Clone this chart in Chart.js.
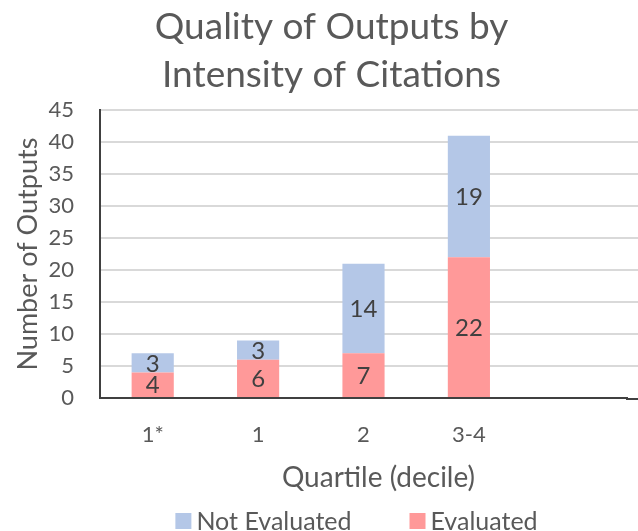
<!DOCTYPE html>
<html>
<head>
<meta charset="utf-8">
<script src="https://cdn.jsdelivr.net/npm/chart.js@4/dist/chart.umd.min.js"></script>
<style>
  html, body { margin: 0; padding: 0; background: #fff; }
  #wrap { width: 638px; height: 531px; }
</style>
</head>
<body>
<div id="wrap"><canvas id="chart"></canvas></div>
<script>
// Data
const categories = ["1*", "1", "2", "3-4", ""];
const evaluated = [4, 6, 7, 22, null];
const notEvaluated = [3, 3, 14, 19, null];

const textColor = "#595959";
const gridColor = "#d9d9d9";
const axisColor = "#404040";
const fontFamily = "Lato, 'Open Sans', sans-serif";
const legendOrder = [1, 0]; // Not Evaluated first, like the original
const xTitle = "Quartile (decile)";

// Draw the value inside each bar segment
const barLabels = {
    id: "barLabels",
    afterDatasetsDraw(chart) {
        const ctx = chart.ctx;
        ctx.save();
        ctx.font = "24px " + fontFamily;
        ctx.fillStyle = "#404040";
        ctx.textAlign = "center";
        ctx.textBaseline = "middle";
        chart.data.datasets.forEach((ds, i) => {
            chart.getDatasetMeta(i).data.forEach((bar, j) => {
                const v = ds.data[j];
                if (v === null || v === undefined) return;
                const mid = (bar.y + bar.base) / 2;
                ctx.fillText(String(v), bar.x, mid + 1);
            });
        });
        ctx.restore();
    }
};

// Nudge the title to the right, the original sits a bit off centre
const titleShift = {
    id: "titleShift",
    afterLayout(chart) {
        if (chart.titleBlock) chart.titleBlock.left += 36;
    }
};

// The original's gridlines and x axis run on to the picture's right edge
const gridRunOn = {
    id: "gridRunOn",
    beforeDatasetsDraw(chart) {
        const { ctx, chartArea } = chart;
        const y = chart.scales.y;
        ctx.save();
        ctx.lineWidth = 2;
        ctx.strokeStyle = gridColor;
        y.ticks.forEach(t => {
            if (t.value === 0) return;
            const py = Math.round(y.getPixelForValue(t.value));
            ctx.beginPath();
            ctx.moveTo(chartArea.right, py);
            ctx.lineTo(chart.width, py);
            ctx.stroke();
        });
        const py0 = y.getPixelForValue(0) + 1;
        ctx.strokeStyle = axisColor;
        ctx.beginPath();
        ctx.moveTo(chartArea.right - 1, py0);
        ctx.lineTo(chart.width, py0);
        ctx.stroke();
        ctx.restore();
    }
};

// x axis title and bottom legend, placed a little off centre as in the original
const bottomTexts = {
    id: "bottomTexts",
    afterDraw(chart) {
        const ctx = chart.ctx;
        const mid = (chart.chartArea.left + chart.chartArea.right) / 2;
        ctx.save();
        ctx.textBaseline = "middle";

        ctx.font = "28px " + fontFamily;
        ctx.fillStyle = textColor;
        ctx.textAlign = "center";
        ctx.fillText(xTitle, mid + 15, chart.scales.x.bottom - 16);

        const box = 16, gap = 5, between = 58;
        ctx.font = "25px " + fontFamily;
        ctx.textAlign = "left";
        const items = legendOrder.map(i => {
            const ds = chart.data.datasets[i];
            return { text: ds.label, color: ds.backgroundColor, w: ctx.measureText(ds.label).width };
        });
        const total = items.reduce((s, it) => s + box + gap + it.w, 0) + between * (items.length - 1);
        let x = mid - 7 - total / 2;
        const y = chart.height - 10;
        items.forEach(it => {
            ctx.fillStyle = it.color;
            ctx.fillRect(x, y - box / 2, box, box);
            x += box + gap;
            ctx.fillStyle = textColor;
            ctx.fillText(it.text, x, y + 1);
            x += it.w + between;
        });
        ctx.restore();
    }
};

new Chart(document.getElementById("chart"), {
    type: "bar",
    data: {
        labels: categories,
        datasets: [
            {
                label: "Evaluated",
                data: evaluated,
                backgroundColor: "#ff9999",
            },
            {
                label: "Not Evaluated",
                data: notEvaluated,
                backgroundColor: "#b4c7e7",
            },
        ],
    },
    options: {
        responsive: true,
        maintainAspectRatio: false,
        animation: false,
        layout: { padding: { left: 0, right: 11, top: 0, bottom: 37 } },
        datasets: {
            bar: { categoryPercentage: 1, barPercentage: 0.4 }
        },
        plugins: {
            title: {
                display: true,
                text: ["Quality of Outputs by", "Intensity of Citations"],
                color: textColor,
                font: { family: fontFamily, size: 37, weight: "normal", lineHeight: 1.3 },
                padding: { top: 3, bottom: 11 },
            },
            legend: { display: false },
            tooltip: { enabled: false },
        },
        scales: {
            x: {
                stacked: true,
                grid: { display: false, drawTicks: false },
                border: { color: axisColor, width: 2 },
                ticks: {
                    color: textColor,
                    font: { family: fontFamily, size: 22 },
                    padding: 24,
                },
                afterFit(scale) { scale.height = 96; },
            },
            y: {
                stacked: true,
                min: 0,
                max: 45,
                grid: { color: gridColor, lineWidth: 2, drawTicks: false },
                border: { color: axisColor, width: 2 },
                ticks: {
                    stepSize: 5,
                    color: textColor,
                    font: { family: fontFamily, size: 22 },
                    padding: 26,
                },
                title: {
                    display: true,
                    text: "Number of Outputs",
                    color: textColor,
                    font: { family: fontFamily, size: 27 },
                    padding: { top: 12, bottom: 0 },
                },
                afterFit(scale) { scale.width = 100; },
            },
        },
    },
    plugins: [barLabels, titleShift, gridRunOn, bottomTexts],
});
</script>
</body>
</html>
